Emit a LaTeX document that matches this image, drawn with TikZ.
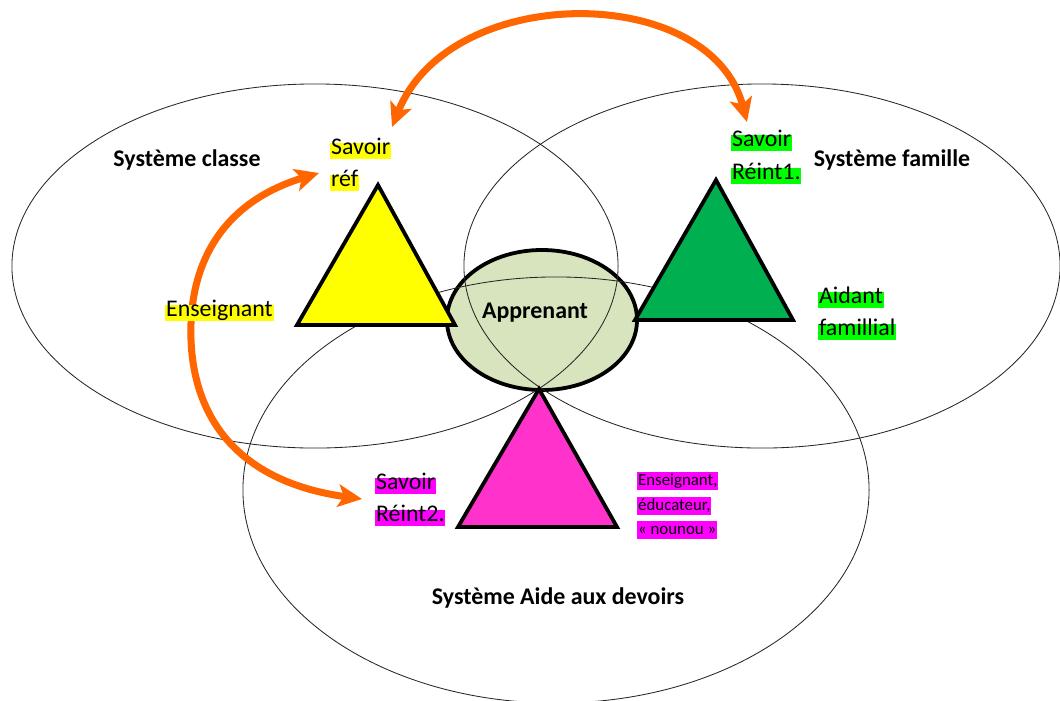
\documentclass[tikz,border=0pt]{standalone}
\usepackage{fontspec}
\setmainfont{Carlito}
\usetikzlibrary{arrows.meta,shapes.geometric}
\definecolor{hlyellow}{HTML}{FFFF00}
\definecolor{hlgreen}{HTML}{00FF00}
\definecolor{hlmagenta}{HTML}{FF00FF}
\definecolor{trigreen}{HTML}{00B050}
\definecolor{tripink}{HTML}{FF33CC}
\definecolor{arroworange}{HTML}{FF6600}
\definecolor{appfill}{HTML}{D7E4BD}
\begin{document}
\begin{tikzpicture}[x=0.025cm,y=-0.025cm,
  sysline/.style={draw=black!85,line width=0.6pt},
  tri/.style={draw=black,line width=2.7pt,line join=miter},
  hl/.style={anchor=west,inner xsep=0.6pt,inner ysep=0pt,text height=0.84em,text depth=0.28em,font=\fontsize{17}{20}\selectfont},
  hlsmall/.style={anchor=west,inner xsep=0.6pt,inner ysep=0pt,text height=0.95em,text depth=0.34em,font=\fontsize{12}{14}\selectfont},
  systitle/.style={font=\bfseries\fontsize{17}{20}\selectfont,inner sep=0pt},
  orarrow/.style={draw=arroworange,line width=5pt,{Stealth[length=17pt,width=16pt,inset=4pt]}-{Stealth[length=17pt,width=16pt,inset=4pt]}}
]
\useasboundingbox (0,0) rectangle (1060,700);

% Apprenant ellipse (filled, below the thin system ellipses)
\node[ellipse,draw=black,line width=2.7pt,fill=appfill,minimum width=4.75cm,minimum height=3.5cm,inner sep=0pt] (app) at (542,320) {};

% System ellipses
\coordinate (cclasse) at (315,266);
\coordinate (cfamille) at (762,266);
\coordinate (caide) at (556,490);
\draw[sysline] (cclasse) ellipse [x radius=7.575cm, y radius=4.55cm];
\draw[sysline] (cfamille) ellipse [x radius=7.45cm, y radius=4.55cm];
\draw[sysline] (caide) ellipse [x radius=7.825cm, y radius=5.325cm];

% Triangles
\coordinate (ya) at (378,185); \coordinate (yb) at (297,325); \coordinate (yc) at (455,325);
\draw[tri,fill=hlyellow] (ya) -- (yb) -- (yc) -- cycle;
\coordinate (ga) at (716,180); \coordinate (gb) at (635,320); \coordinate (gc) at (793,320);
\draw[tri,fill=trigreen] (ga) -- (gb) -- (gc) -- cycle;
\coordinate (pa) at (539,389); \coordinate (pb) at (458,527); \coordinate (pc) at (617,527);
\draw[tri,fill=tripink] (pa) -- (pb) -- (pc) -- cycle;

% Orange double arrows
\coordinate (topL) at (392,127);
\coordinate (topR) at (747,122);
\draw[orarrow] (topL) .. controls (450,-18) and (710,-18) .. (topR);
\coordinate (leftT) at (319,173);
\coordinate (leftM) at (191,340);
\coordinate (leftB) at (362,499);
\draw[orarrow] (leftT) .. controls (230,200) and (188,255) .. (leftM) .. controls (194,420) and (240,482) .. (leftB);

% Titles
\node[systitle] (tclasse) at (187,160) {Système classe};
\node[systitle] (tfamille) at (892,160) {Système famille};
\node[systitle] (taide) at (558,598) {Système Aide aux devoirs};
\node[systitle] (tapp) at (535,313) {Apprenant};

% Highlighted labels
\node[hl,fill=hlyellow] (sr1) at (330,151) {Savoir};
\node[hl,fill=hlyellow] (sr2) at (330,183) {réf};
\node[hl,fill=hlyellow] (ens) at (165,313) {Enseignant};
\node[hl,fill=hlgreen] (sg1) at (731,143) {Savoir};
\node[hl,fill=hlgreen] (sg2) at (731,176) {Réint1.};
\node[hl,fill=hlgreen] (ai1) at (818,300) {Aidant};
\node[hl,fill=hlgreen] (ai2) at (818,332) {famillial};
\node[hl,fill=hlmagenta] (sm1) at (375,486) {Savoir};
\node[hl,fill=hlmagenta] (sm2) at (375,518) {Réint2.};
\node[hlsmall,fill=hlmagenta] (em1) at (637,481) {Enseignant,};
\node[hlsmall,fill=hlmagenta] (em2) at (637,506) {éducateur,};
\node[hlsmall,fill=hlmagenta] (em3) at (637,530) {«~nounou~»};
\end{tikzpicture}
\end{document}
